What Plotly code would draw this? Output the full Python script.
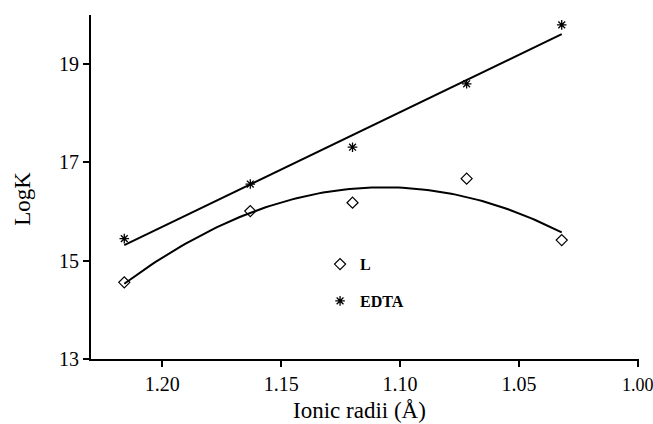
import numpy as np
import plotly.graph_objects as go

# Data
radii = [1.216, 1.163, 1.120, 1.072, 1.032]
logk_L = [14.56, 16.01, 16.18, 16.67, 15.42]
logk_EDTA = [15.45, 16.56, 17.31, 18.60, 19.80]
x_ticks = [1.20, 1.15, 1.10, 1.05, 1.00]
y_ticks = [13, 15, 17, 19]

# Trend lines (fits of the data)
xr = np.array(radii)
lin = np.polyfit(xr, logk_EDTA, 1)
quad = np.polyfit(xr, logk_L, 2)
xs = np.linspace(xr.min(), xr.max(), 100)

font_family = "Liberation Serif"

# last label sits at the figure edge: slightly smaller so it is not cut off
x_ticktext = [f"{v:.2f}" for v in x_ticks]
x_ticktext[-1] = f"<span style='font-size:18px'>{x_ticktext[-1]}</span>"

fig = go.Figure()
fig.add_trace(go.Scatter(x=xs, y=np.polyval(quad, xs), mode="lines",
                         line=dict(color="black", width=2), showlegend=False, hoverinfo="skip"))
fig.add_trace(go.Scatter(x=[xr.max(), xr.min()], y=np.polyval(lin, [xr.max(), xr.min()]), mode="lines",
                         line=dict(color="black", width=2), showlegend=False, hoverinfo="skip"))
fig.add_trace(go.Scatter(x=radii, y=logk_L, mode="markers", name="<b>L</b>", legendgroup="a",
                         marker=dict(symbol="diamond-open", size=8.5, color="black", line=dict(width=1.2))))
fig.add_trace(go.Scatter(x=radii, y=logk_EDTA, mode="markers", name="<b>EDTA</b>", legendgroup="b",
                         marker=dict(symbol="asterisk-open", size=8, color="black", line=dict(width=1.3))))

axis_common = dict(showline=True, linecolor="black", linewidth=2, ticks="outside", ticklen=6,
                   tickwidth=2, tickcolor="black", showgrid=False, zeroline=False, automargin=False,
                   ticklabeloverflow="allow",
                   tickfont=dict(family=font_family, size=20, color="black"))

fig.update_layout(
    width=653, height=424,
    margin=dict(l=91, r=14, t=15, b=65),
    plot_bgcolor="white", paper_bgcolor="white",
    font=dict(family=font_family, color="black"),
    xaxis=dict(range=[1.23, 0.9995], tickvals=x_ticks, ticktext=x_ticktext,
               **axis_common),
    yaxis=dict(range=[13, 20], tickvals=y_ticks, **axis_common),
    legend=dict(x=0.418, y=0.325, xanchor="left", yanchor="top", bgcolor="rgba(0,0,0,0)",
                font=dict(family=font_family, size=16, color="black"),
                tracegroupgap=13, itemwidth=30),
    annotations=[
        dict(text="Ionic radii (Å)", xref="paper", yref="paper", x=0.49, y=-0.151,
             xanchor="center", yanchor="middle", showarrow=False,
             font=dict(family=font_family, size=23, color="black")),
        dict(text="LogK", xref="paper", yref="paper", x=-0.1265, y=0.465, textangle=-90,
             xanchor="center", yanchor="middle", showarrow=False,
             font=dict(family=font_family, size=23, color="black")),
    ],
)

fig.write_html("out.html")
